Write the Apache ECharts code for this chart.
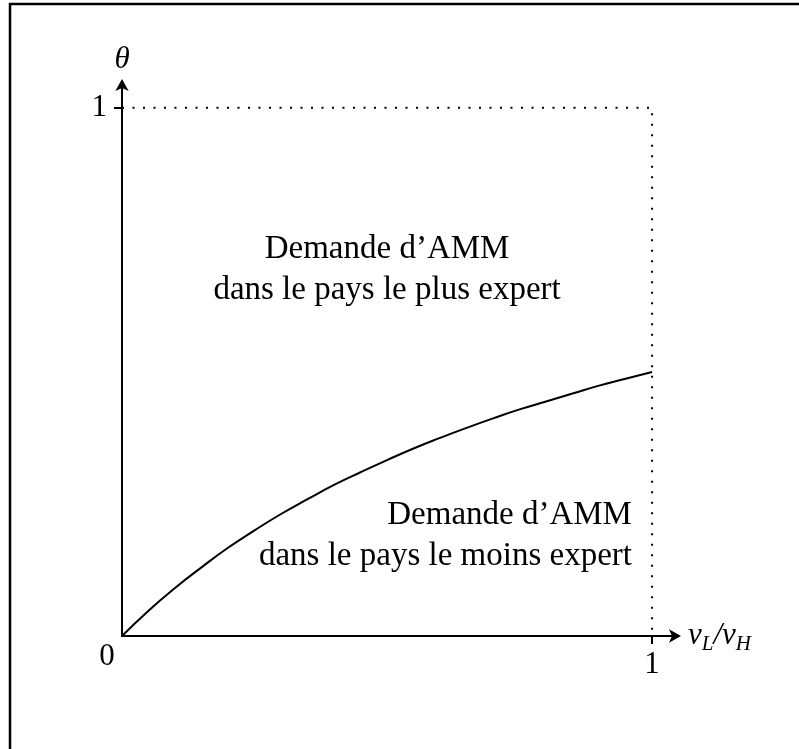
<!DOCTYPE html>
<html><head><meta charset="utf-8">
<script src="https://cdn.jsdelivr.net/npm/echarts@6/dist/echarts.min.js"></script>
<style>html,body{margin:0;padding:0;background:#fff}#c{width:799px;height:749px}</style>
</head><body><div id="c"></div>
<script>
// values
const vRatio = [0, 0.05, 0.1, 0.15, 0.2, 0.25, 0.3, 0.35, 0.4, 0.45, 0.5, 0.55, 0.6, 0.65, 0.7, 0.75, 0.8, 0.85, 0.9, 0.95, 1.0];
const theta  = [0, 0.048, 0.091, 0.13, 0.167, 0.2, 0.231, 0.259, 0.286, 0.31, 0.333, 0.355, 0.375, 0.394, 0.412, 0.429, 0.444, 0.459, 0.474, 0.487, 0.5];
const boundX = [0, 1, 1];
const boundY = [1, 1, 0];
const upperText = ['Demande d\u2019AMM', 'dans le pays le plus expert'];
const lowerText = ['Demande d\u2019AMM', 'dans le pays le moins expert'];
const upperPos = [0.5, 0.694];
const lowerPos = [0.962, 0.19];
const xTicks = [1];
const yTicks = [1];

const F = 'Liberation Serif';
const curve = vRatio.map((v, i) => [v, theta[i]]);
const bound = boundX.map((x, i) => [x, boundY[i]]);

const chart = echarts.init(document.getElementById('c'));
chart.setOption({
  animation: false,
  backgroundColor: '#fff',
  grid: { left: 122, right: 122, top: 83, bottom: 113 },
  xAxis: {
    type: 'value', min: 0, max: 1.047,
    splitLine: { show: false },
    axisLine: { lineStyle: { color: '#000', width: 2 }, symbol: ['none', 'arrow'], symbolSize: [10, 12], symbolOffset: [0, 4] },
    axisTick: { show: true, customValues: xTicks, length: 8, lineStyle: { color: '#000', width: 2 } },
    axisLabel: { customValues: xTicks, color: '#000', fontFamily: F, fontSize: 31, margin: 13 },
    name: '{i|v}{s|L}{i|/v}{s|H}', nameLocation: 'end', nameGap: 11,
    nameTextStyle: {
      color: '#000', verticalAlign: 'middle',
      rich: {
        i: { fontFamily: F, fontStyle: 'italic', fontSize: 31, color: '#000' },
        s: { fontFamily: F, fontStyle: 'italic', fontSize: 21, color: '#000', padding: [17, 0, 0, 0] }
      }
    }
  },
  yAxis: {
    type: 'value', min: 0, max: 1.047,
    splitLine: { show: false },
    axisLine: { lineStyle: { color: '#000', width: 2 }, symbol: ['none', 'arrow'], symbolSize: [10, 12], symbolOffset: [0, 4] },
    axisTick: { show: true, customValues: yTicks, length: 8, lineStyle: { color: '#000', width: 2 } },
    axisLabel: { customValues: yTicks, color: '#000', fontFamily: F, fontSize: 31, margin: 15 },
    name: 'θ', nameLocation: 'end', nameGap: 8,
    nameTextStyle: { color: '#000', fontFamily: F, fontStyle: 'italic', fontSize: 31 }
  },
  series: [
    {
      type: 'line', data: bound, symbol: 'none', silent: true,
      lineStyle: { color: '#000', width: 2, type: [2, 8.5] }
    },
    {
      type: 'line', data: curve, smooth: 0.5, symbol: 'none',
      lineStyle: { color: '#000', width: 2 }
    },
    {
      type: 'scatter', symbolSize: 0, silent: true,
      itemStyle: { opacity: 1, color: '#000' },
      data: [
        { value: upperPos, label: { formatter: upperText.join('\n'), align: 'center' } },
        { value: lowerPos, label: { formatter: lowerText.join('\n'), align: 'right' } },
        { value: [0, 0], label: { formatter: '0', align: 'center', offset: [-15, 21], fontSize: 31, lineHeight: 34 } }
      ],
      label: { show: true, position: 'inside', verticalAlign: 'middle', color: '#000', fontFamily: F, fontSize: 33, lineHeight: 41 }
    }
  ],
  graphic: [
    { type: 'rect', shape: { x: 10, y: 4, width: 900, height: 900 }, style: { fill: 'none', stroke: '#000', lineWidth: 2.5 }, z: 100 }
  ]
});
</script></body></html>
